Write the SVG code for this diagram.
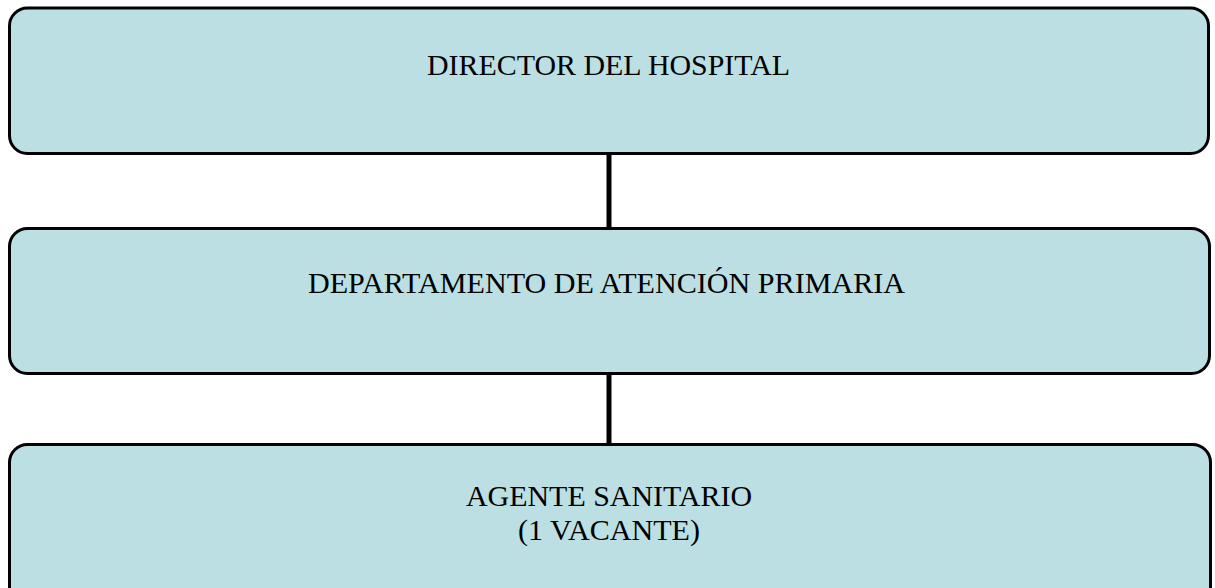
<svg xmlns="http://www.w3.org/2000/svg" width="1215" height="588" viewBox="0 0 1215 588">
<style>
.box{fill:#BBDFE3;stroke:#000;stroke-width:3}
.lbl{font-family:"Liberation Serif","Times New Roman",serif;font-size:29px;fill:#000;text-anchor:middle}
.conn{stroke:#000;stroke-width:5;fill:none}
</style>
<rect x="0" y="0" width="1215" height="588" fill="#fff"/>
<g id="connectors">
<line class="conn" x1="609" y1="154" x2="609" y2="228"/>
<line class="conn" x1="609" y1="374" x2="609" y2="444"/>
</g>
<g id="director">
<rect class="box" x="9.5" y="8" width="1199" height="145.5" rx="18" ry="18"/>
<text class="lbl" x="608.5" y="75" textLength="363" lengthAdjust="spacingAndGlyphs">DIRECTOR DEL HOSPITAL</text>
</g>
<g id="departamento">
<rect class="box" x="9.5" y="228.5" width="1200" height="145" rx="18" ry="18"/>
<text class="lbl" x="606.5" y="293" textLength="597" lengthAdjust="spacingAndGlyphs">DEPARTAMENTO DE ATENCIÓN PRIMARIA</text>
</g>
<g id="agente">
<rect class="box" x="9.5" y="444.5" width="1201" height="160" rx="18" ry="18"/>
<text class="lbl" x="609" y="506" textLength="286" lengthAdjust="spacingAndGlyphs">AGENTE SANITARIO</text>
<text class="lbl" x="609" y="540" textLength="182" lengthAdjust="spacingAndGlyphs">(1 VACANTE)</text>
</g>
</svg>
